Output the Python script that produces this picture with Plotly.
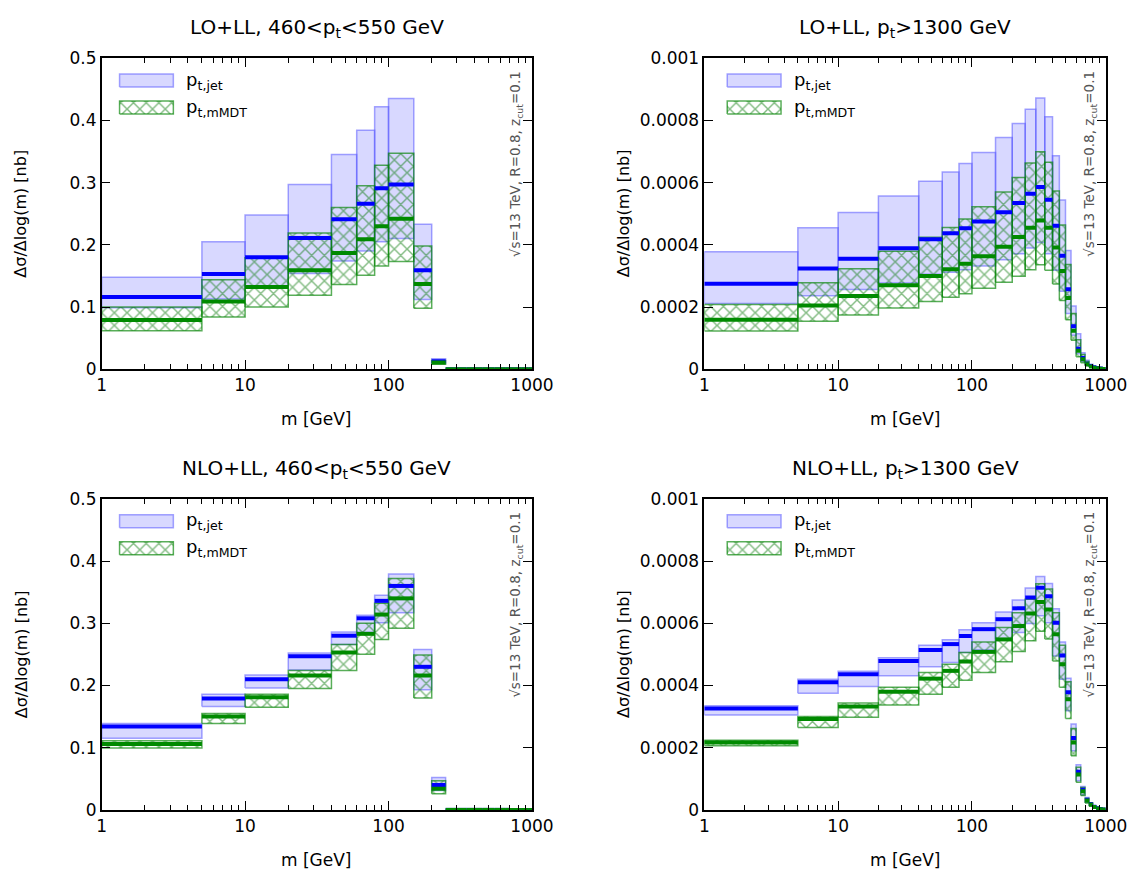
"""
Jet mass distributions: p_t,jet vs p_t,mMDT selection, LO+LL and NLO+LL
"""
import plotly.graph_objects as go

# bin edges in m [GeV]
EDGES = [1, 5, 10, 20, 40, 60, 80, 100, 150, 200, 250, 300, 350, 400, 450,
         500, 550, 600, 650, 700, 750, 800, 850, 900, 950, 1000]
X_TICKS = [1, 10, 100, 1000]

TITLES = ['LO+LL, 460&lt;p<sub>t</sub>&lt;550 GeV', 'LO+LL, p<sub>t</sub>&gt;1300 GeV',
          'NLO+LL, 460&lt;p<sub>t</sub>&lt;550 GeV', 'NLO+LL, p<sub>t</sub>&gt;1300 GeV']
Y_MAX = [0.5, 0.001, 0.5, 0.001]
LABELS = ['p<sub>t,jet</sub>', 'p<sub>t,mMDT</sub>']
INFO_TEXT = '√s=13 TeV, R=0.8, z<sub>cut</sub>=0.1'
X_TITLE = 'm [GeV]'
Y_TITLE = 'Δσ/Δlog(m) [nb]'

# --- LO+LL, 460<pt<550 ---
lo_low_jet_c = [0.116, 0.153, 0.180, 0.211, 0.241, 0.266, 0.291, 0.297, 0.159, 0.013,
                0, 0, 0, 0, 0, 0, 0, 0, 0, 0, 0, 0, 0, 0, 0]
lo_low_jet_lo = [0.099, 0.113, 0.132, 0.154, 0.174, 0.190, 0.205, 0.210, 0.112, 0.010,
                 0, 0, 0, 0, 0, 0, 0, 0, 0, 0, 0, 0, 0, 0, 0]
lo_low_jet_hi = [0.148, 0.205, 0.248, 0.297, 0.345, 0.384, 0.422, 0.435, 0.233, 0.017,
                 0, 0, 0, 0, 0, 0, 0, 0, 0, 0, 0, 0, 0, 0, 0]
lo_low_mmdt_c = [0.079, 0.109, 0.132, 0.159, 0.187, 0.209, 0.230, 0.242, 0.137, 0.011,
                 0, 0, 0, 0, 0, 0, 0, 0, 0, 0, 0, 0, 0, 0, 0]
lo_low_mmdt_lo = [0.062, 0.084, 0.100, 0.119, 0.136, 0.151, 0.166, 0.173, 0.098, 0.008,
                  0, 0, 0, 0, 0, 0, 0, 0, 0, 0, 0, 0, 0, 0, 0]
lo_low_mmdt_hi = [0.100, 0.144, 0.179, 0.219, 0.260, 0.295, 0.328, 0.347, 0.198, 0.014,
                  0, 0, 0, 0, 0, 0, 0, 0, 0, 0, 0, 0, 0, 0, 0]

# --- LO+LL, pt>1300 ---
lo_high_jet_c = [0.000275, 0.000324, 0.000355, 0.000389, 0.000418, 0.000437, 0.000453,
                 0.000475, 0.000505, 0.000534, 0.000564, 0.000586, 0.000545, 0.000461,
                 0.000365, 0.000257, 0.000138, 0.000066, 0.000036, 0.000018, 0.000010,
                 0.000006, 0.000004, 0.000002, 0.000001]
lo_high_jet_lo = [0.000211, 0.000236, 0.000256, 0.000277, 0.000305, 0.000312, 0.000320,
                  0.000332, 0.000352, 0.000371, 0.000390, 0.000407, 0.000371, 0.000318,
                  0.000251, 0.000179, 0.000109, 0.000050, 0.000025, 0.000012, 0.000007,
                  0.000004, 0.0000025, 0.0000015, 0.0000007]
lo_high_jet_hi = [0.000378, 0.000455, 0.000504, 0.000557, 0.000604, 0.000634, 0.000661,
                  0.000697, 0.000745, 0.000790, 0.000836, 0.000872, 0.000812, 0.000686,
                  0.000544, 0.000382, 0.000203, 0.000114, 0.000053, 0.000029, 0.000016,
                  0.000009, 0.000006, 0.000003, 0.0000015]
lo_high_mmdt_c = [0.000159, 0.000205, 0.000235, 0.000270, 0.000300, 0.000321, 0.000339,
                  0.000363, 0.000394, 0.000425, 0.000455, 0.000478, 0.000455, 0.000391,
                  0.000316, 0.000229, 0.000124, 0.000059, 0.000032, 0.000016, 0.000009,
                  0.000005, 0.000003, 0.0000017, 0.0000008]
lo_high_mmdt_lo = [0.000123, 0.000154, 0.000174, 0.000197, 0.000218, 0.000231, 0.000243,
                   0.000260, 0.000280, 0.000299, 0.000320, 0.000336, 0.000318, 0.000274,
                   0.000221, 0.000159, 0.000093, 0.000040, 0.000021, 0.000011, 0.000006,
                   0.0000035, 0.000002, 0.000001, 0.0000005]
lo_high_mmdt_hi = [0.000208, 0.000278, 0.000323, 0.000379, 0.000424, 0.000456, 0.000483,
                   0.000522, 0.000570, 0.000616, 0.000663, 0.000699, 0.000665, 0.000573,
                   0.000464, 0.000337, 0.000179, 0.000095, 0.000047, 0.000025, 0.000013,
                   0.000008, 0.000005, 0.0000025, 0.0000012]

# --- NLO+LL, 460<pt<550 ---
nlo_low_jet_c = [0.134, 0.179, 0.210, 0.247, 0.280, 0.308, 0.336, 0.360, 0.230, 0.040,
                 0, 0, 0, 0, 0, 0, 0, 0, 0, 0, 0, 0, 0, 0, 0]
nlo_low_jet_lo = [0.115, 0.166, 0.196, 0.225, 0.266, 0.285, 0.301, 0.317, 0.193, 0.031,
                  0, 0, 0, 0, 0, 0, 0, 0, 0, 0, 0, 0, 0, 0, 0]
nlo_low_jet_hi = [0.139, 0.186, 0.217, 0.252, 0.286, 0.313, 0.345, 0.379, 0.258, 0.052,
                  0, 0, 0, 0, 0, 0, 0, 0, 0, 0, 0, 0, 0, 0, 0]
nlo_low_mmdt_c = [0.106, 0.150, 0.181, 0.216, 0.253, 0.283, 0.314, 0.340, 0.216, 0.034,
                  0, 0, 0, 0, 0, 0, 0, 0, 0, 0, 0, 0, 0, 0, 0]
nlo_low_mmdt_lo = [0.0995, 0.139, 0.165, 0.195, 0.224, 0.250, 0.274, 0.292, 0.180, 0.026,
                   0, 0, 0, 0, 0, 0, 0, 0, 0, 0, 0, 0, 0, 0, 0]
nlo_low_mmdt_hi = [0.111, 0.155, 0.186, 0.224, 0.266, 0.300, 0.332, 0.372, 0.249, 0.047,
                   0, 0, 0, 0, 0, 0, 0, 0, 0, 0, 0, 0, 0, 0, 0]

# --- NLO+LL, pt>1300 ---
nlo_high_jet_c = [0.000326, 0.000410, 0.000436, 0.000479, 0.000514, 0.000533, 0.000559,
                  0.000581, 0.000613, 0.000648, 0.000683, 0.000714, 0.000687, 0.000602,
                  0.000496, 0.000378, 0.000231, 0.000123, 0.000065, 0.000033, 0.000019,
                  0.000010, 0.000005, 0.0000025, 0.000001]
nlo_high_jet_lo = [0.000305, 0.000375, 0.000397, 0.000431, 0.000460, 0.000474, 0.000506,
                   0.000514, 0.000549, 0.000570, 0.000599, 0.000624, 0.000602, 0.000495,
                   0.000420, 0.000319, 0.000190, 0.000094, 0.000048, 0.000024, 0.000013,
                   0.000007, 0.0000035, 0.0000017, 0.0000007]
nlo_high_jet_hi = [0.000335, 0.000420, 0.000446, 0.000489, 0.000529, 0.000547, 0.000579,
                   0.000602, 0.000636, 0.000675, 0.000713, 0.000750, 0.000728, 0.000647,
                   0.000540, 0.000423, 0.000276, 0.000145, 0.000075, 0.000040, 0.000023,
                   0.000013, 0.000006, 0.000003, 0.0000014]
nlo_high_mmdt_c = [0.000217, 0.000292, 0.000332, 0.000380, 0.000422, 0.000447, 0.000477,
                   0.000508, 0.000548, 0.000591, 0.000631, 0.000668, 0.000644, 0.000565,
                   0.000468, 0.000356, 0.000217, 0.000114, 0.000060, 0.000030, 0.000017,
                   0.000009, 0.0000045, 0.0000022, 0.0000009]
nlo_high_mmdt_lo = [0.000206, 0.000265, 0.000298, 0.000337, 0.000372, 0.000394, 0.000417,
                    0.000442, 0.000476, 0.000509, 0.000544, 0.000574, 0.000549, 0.000479,
                    0.000394, 0.000294, 0.000174, 0.000089, 0.000046, 0.000022, 0.000012,
                    0.000006, 0.000003, 0.0000015, 0.0000006]
nlo_high_mmdt_hi = [0.000224, 0.000300, 0.000344, 0.000394, 0.000442, 0.000468, 0.000506,
                    0.000540, 0.000586, 0.000634, 0.000677, 0.000727, 0.000710, 0.000634,
                    0.000529, 0.000412, 0.000262, 0.000137, 0.000072, 0.000037, 0.000021,
                    0.000012, 0.000006, 0.000003, 0.0000013]

PANELS = [
    (lo_low_jet_c, lo_low_jet_lo, lo_low_jet_hi, lo_low_mmdt_c, lo_low_mmdt_lo, lo_low_mmdt_hi),
    (lo_high_jet_c, lo_high_jet_lo, lo_high_jet_hi, lo_high_mmdt_c, lo_high_mmdt_lo, lo_high_mmdt_hi),
    (nlo_low_jet_c, nlo_low_jet_lo, nlo_low_jet_hi, nlo_low_mmdt_c, nlo_low_mmdt_lo, nlo_low_mmdt_hi),
    (nlo_high_jet_c, nlo_high_jet_lo, nlo_high_jet_hi, nlo_high_mmdt_c, nlo_high_mmdt_lo, nlo_high_mmdt_hi),
]

# page geometry (px, as measured on the target picture)
W, H = 1137, 872
BOX_X = [(100, 532), (705, 1108), (100, 532), (705, 1108)]
BOX_Y = [(57, 369), (57, 369), (499, 811), (499, 811)]
# the photographed page comes out slightly squeezed; undo it
SX, OX = 0.98, 3.0
SY, OY = 0.98, 8.7

FONT = 'DejaVu Sans'
BLUE_FILL = 'rgba(60,60,255,0.2)'
BLUE_EDGE = 'rgba(90,90,255,0.55)'
GREEN_EDGE = 'rgba(0,130,0,0.65)'
GREEN_HATCH = '#0a7a0a'


def fx(px):
    return (px - OX) / SX / W


def fy(py):
    return 1 - (py - OY) / SY / H


def band_xy(lo, hi):
    xs, ys = [], []
    for i in range(len(lo)):
        a, b = EDGES[i], EDGES[i + 1]
        xs += [a, b, b, a, a, None]
        ys += [lo[i], lo[i], hi[i], hi[i], lo[i], None]
    return xs, ys


def step_xy(c):
    xs, ys = [], []
    for i in range(len(c)):
        xs += [EDGES[i], EDGES[i + 1], None]
        ys += [c[i], c[i], None]
    return xs, ys


def jet_band(xs, ys, xa, ya):
    return go.Scatter(x=xs, y=ys, xaxis=xa, yaxis=ya, mode='lines', fill='toself',
                      fillcolor=BLUE_FILL, line=dict(color=BLUE_EDGE, width=1.5),
                      hoverinfo='skip')


def mmdt_band(xs, ys, xa, ya):
    return go.Scatter(x=xs, y=ys, xaxis=xa, yaxis=ya, mode='lines', fill='toself',
                      fillcolor='rgba(0,0,0,0)',
                      fillpattern=dict(shape='x', fgcolor=GREEN_HATCH, bgcolor='rgba(0,0,0,0)',
                                       size=9, solidity=0.3),
                      line=dict(color=GREEN_EDGE, width=1.5), hoverinfo='skip')


fig = go.Figure()
layout = dict(width=W, height=H, margin=dict(l=0, r=0, t=0, b=0),
              paper_bgcolor='white', plot_bgcolor='white', showlegend=False,
              font=dict(family=FONT, size=17, color='black'))
annotations = []

for k, (jet_c, jet_lo, jet_hi, mm_c, mm_lo, mm_hi) in enumerate(PANELS):
    n = k + 1
    xa, ya = f'x{n}', f'y{n}'
    xl, xr = BOX_X[k]
    yt, yb = BOX_Y[k]
    xdom = [fx(xl), fx(xr)]
    ydom = [fy(yb), fy(yt)]

    # bands, then central values on top
    fig.add_trace(jet_band(*band_xy(jet_lo, jet_hi), xa, ya))
    fig.add_trace(mmdt_band(*band_xy(mm_lo, mm_hi), xa, ya))
    sx, sy = step_xy(jet_c)
    fig.add_trace(go.Scatter(x=sx, y=sy, xaxis=xa, yaxis=ya, mode='lines',
                             line=dict(color='#0000ff', width=4), hoverinfo='skip'))
    sx, sy = step_xy(mm_c)
    fig.add_trace(go.Scatter(x=sx, y=sy, xaxis=xa, yaxis=ya, mode='lines',
                             line=dict(color='#008a00', width=4), hoverinfo='skip'))

    ax_common = dict(showline=True, linecolor='black', linewidth=1.5, mirror='ticks',
                     ticks='inside', ticklen=9, tickwidth=1.3, tickcolor='black',
                     showgrid=False, zeroline=False, tickfont=dict(size=17))
    layout[f'xaxis{n}'] = dict(type='log', range=[0, 3], domain=xdom, anchor=ya,
                               tickvals=X_TICKS, ticktext=[str(t) for t in X_TICKS],
                               minor=dict(ticks='inside', ticklen=5, tickwidth=1, dtick='D1',
                                          tickcolor='black', showgrid=False),
                               **ax_common)
    layout[f'yaxis{n}'] = dict(range=[0, Y_MAX[k]], dtick=Y_MAX[k] / 5, tickformat='~g',
                               domain=ydom, anchor=xa, **ax_common)

    # overlay axes in box fractions for the key
    m = n + 4
    layout[f'xaxis{m}'] = dict(range=[0, 1], overlaying=xa, anchor=f'y{m}', visible=False)
    layout[f'yaxis{m}'] = dict(range=[0, 1], overlaying=ya, anchor=f'x{m}', visible=False)
    bw, bh = xr - xl, yb - yt
    off = 18 if k % 2 == 0 else 23
    kx0, kx1 = off / bw, (off + 54) / bw
    for j, (t0, t1) in enumerate([(16, 29), (43, 56)]):
        ky0, ky1 = 1 - t1 / bh, 1 - t0 / bh
        kxs = [kx0, kx1, kx1, kx0, kx0]
        kys = [ky0, ky0, ky1, ky1, ky0]
        if j == 0:
            fig.add_trace(jet_band(kxs, kys, f'x{m}', f'y{m}'))
        else:
            fig.add_trace(mmdt_band(kxs, kys, f'x{m}', f'y{m}'))
        annotations.append(dict(x=(off + 65) / bw, y=1 - (t0 + t1) / 2 / bh,
                                xref=f'x{m}', yref=f'y{m}', text=LABELS[j],
                                showarrow=False, xanchor='left', yanchor='middle',
                                font=dict(size=18)))

    # rotated info text
    annotations.append(dict(x=1 - 16 / bw, y=1 - 11 / bh, xref=f'x{m}', yref=f'y{m}',
                            text=INFO_TEXT, textangle=-90, showarrow=False,
                            xanchor='center', yanchor='top',
                            font=dict(size=13.5, color='#555555')))

    # panel title and axis titles
    annotations.append(dict(x=fx((xl + xr) / 2), y=fy(yt - 30), xref='paper', yref='paper',
                            text=TITLES[k], showarrow=False, xanchor='center', yanchor='middle',
                            font=dict(size=20)))
    annotations.append(dict(x=fx((xl + xr) / 2), y=fy(yb + 50), xref='paper', yref='paper',
                            text=X_TITLE, showarrow=False, xanchor='center', yanchor='middle',
                            font=dict(size=17)))
    annotations.append(dict(x=fx(xl - 81), y=fy((yt + yb) / 2), xref='paper', yref='paper',
                            text=Y_TITLE, textangle=-90, showarrow=False,
                            xanchor='center', yanchor='middle', font=dict(size=16)))

layout['annotations'] = annotations
fig.update_layout(**layout)
fig.write_html('out.html', config={'displayModeBar': False},
               post_script="document.body.style.margin='0px';")
